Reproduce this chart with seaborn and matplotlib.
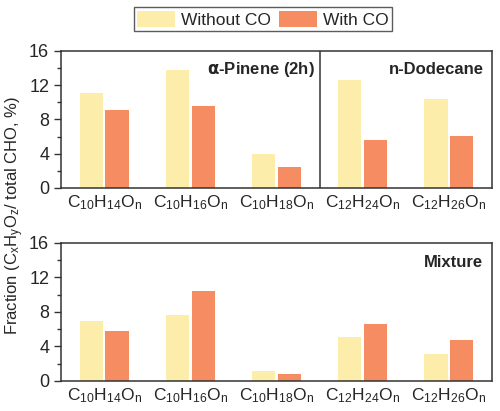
import numpy as np
import pandas as pd
import matplotlib
matplotlib.use('Agg')
import matplotlib.pyplot as plt
import seaborn as sns
from matplotlib.ticker import MultipleLocator

# categories and series
categories = ['C10H14On', 'C10H16On', 'C10H18On', 'C12H24On', 'C12H26On']
tick_labels = [r'C$_{10}$H$_{14}$O$_{\rm n}$', r'C$_{10}$H$_{16}$O$_{\rm n}$',
               r'C$_{10}$H$_{18}$O$_{\rm n}$', r'C$_{12}$H$_{24}$O$_{\rm n}$',
               r'C$_{12}$H$_{26}$O$_{\rm n}$']
conditions = ['Without CO', 'With CO']

single_without = [11.1, 13.7, 4.0, 12.6, 10.4]
single_with = [9.1, 9.5, 2.4, 5.6, 6.1]
mixture_without = [7.0, 7.65, 1.15, 5.05, 3.1]
mixture_with = [5.8, 10.45, 0.85, 6.6, 4.7]

palette = {'Without CO': '#FDEDAA', 'With CO': '#F58C62'}


def long_df(without, with_):
    return pd.DataFrame({
        'category': categories * 2,
        'condition': ['Without CO'] * len(categories) + ['With CO'] * len(categories),
        'value': list(without) + list(with_),
    })


df_top = long_df(single_without, single_with)
df_bot = long_df(mixture_without, mixture_with)

sns.set_style('ticks')
plt.rcParams['font.family'] = ['Liberation Sans', 'DejaVu Sans']
plt.rcParams['mathtext.fontset'] = 'custom'
plt.rcParams['mathtext.rm'] = 'Liberation Sans'
plt.rcParams['mathtext.it'] = 'Liberation Sans'

fig = plt.figure(figsize=(5, 4.11), dpi=100)
ax1 = fig.add_axes([0.122, 0.5426, 0.862, 0.334])
ax2 = fig.add_axes([0.122, 0.073, 0.862, 0.3358])

for ax, d in [(ax1, df_top), (ax2, df_bot)]:
    sns.barplot(data=d, x='category', y='value', hue='condition', order=categories,
                hue_order=conditions, palette=palette, width=0.6, gap=0.1,
                linewidth=0, saturation=1, legend=(ax is ax1), ax=ax)
    ax.set_xlim(-0.5, 4.5)
    ax.set_ylim(0, 16)
    ax.yaxis.set_major_locator(MultipleLocator(4))
    ax.yaxis.set_minor_locator(MultipleLocator(2))
    ax.set_xticks(range(len(categories)))
    ax.set_xticklabels(tick_labels, fontsize=12.5)
    ax.tick_params(axis='x', length=0, pad=4)
    ax.tick_params(axis='y', which='major', length=5, width=1, labelsize=13, direction='out', color='#333333')
    ax.tick_params(axis='y', which='minor', length=3, width=1, direction='out', color='#333333')
    ax.set_xlabel('')
    ax.set_ylabel('')
    for s in ax.spines.values():
        s.set_visible(True)
        s.set_color('#333333')
        s.set_linewidth(1.1)

ax1.axvline(2.5, color='#333333', lw=1.1)
ax1.text(2.44, 13.85, r'$\mathbf{\alpha}$-Pinene (2h)', ha='right', va='center', fontsize=12, fontweight='bold')
ax1.text(4.4, 13.85, 'n-Dodecane', ha='right', va='center', fontsize=12, fontweight='bold')
ax2.text(4.4, 13.7, 'Mixture', ha='right', va='center', fontsize=12, fontweight='bold')

handles, labels = ax1.get_legend_handles_labels()
ax1.get_legend().remove()
leg = fig.legend(handles, labels, loc='upper center', bbox_to_anchor=(0.526, 0.995), ncol=2,
                 fontsize=12.5, frameon=True, fancybox=False, edgecolor='#333333',
                 handlelength=2.2, handleheight=1.1, handletextpad=0.35, columnspacing=0.45,
                 borderpad=0.2, borderaxespad=0.3)
leg.get_frame().set_linewidth(1.0)

fig.text(0.03, 0.475, r'Fraction (C$_x$H$_y$O$_z$/ total CHO, %)', rotation=90,
         ha='center', va='center', fontsize=12)

fig.savefig('out.png', dpi=100)
